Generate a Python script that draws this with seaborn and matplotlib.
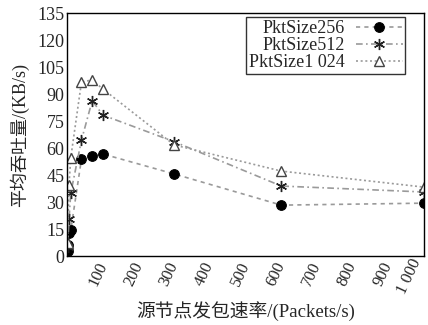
import matplotlib
matplotlib.use("Agg")
import matplotlib.pyplot as plt
import seaborn as sns
import pandas as pd

# data
x256 = [1, 2, 5, 10, 40, 70, 100, 300, 600, 1000]
y256 = [3, 6, 12.8, 14.4, 53.9, 55.6, 56.7, 45.6, 28.3, 29.4]
x512 = [1, 5, 10, 40, 70, 100, 300, 600, 1000]
y512 = [5, 20.5, 35, 64.4, 86.3, 78.3, 63.5, 38.9, 35.6]
x1024 = [1, 5, 10, 40, 70, 100, 300, 600, 1000]
y1024 = [7, 39.5, 54.6, 96.7, 97.8, 92.8, 61.7, 47.2, 38.3]
series_names = ["PktSize256", "PktSize512", "PktSize1 024"]
xticks = [100, 200, 300, 400, 500, 600, 700, 800, 900, 1000]
xtick_labels = ["100", "200", "300", "400", "500", "600", "700", "800", "900", "1 000"]
yticks = [0, 15, 30, 45, 60, 75, 90, 105, 120, 135]
xlabel = "源节点发包速率/(Packets/s)"
ylabel = "平均吞吐量/(KB/s)"

sns.set_theme(style="white")
plt.rcParams['font.family'] = ['Liberation Serif', 'Noto Sans CJK SC']

fig = plt.figure(figsize=(4.28, 3.25), dpi=100)
ax = fig.add_axes([0.157, 0.212, 0.834, 0.748])

styles = [
    dict(linestyle=(0, (2.5, 2.5)), marker='o', markersize=7, markerfacecolor='black',
         markeredgecolor='black'),
    dict(linestyle=(0, (4, 2, 1, 2)), marker=(6, 2, 0), markersize=8, markerfacecolor='black',
         markeredgecolor='#222222', markeredgewidth=1.0),
    dict(linestyle=(0, (1.2, 1.6)), marker='^', markersize=7, markerfacecolor='white',
         markeredgecolor='#444444', markeredgewidth=1.0),
]
data = [(x256, y256), (x512, y512), (x1024, y1024)]
for (xs, ys), name, st in zip(data, series_names, styles):
    df = pd.DataFrame({"x": xs, "y": ys})
    sns.lineplot(data=df, x="x", y="y", ax=ax, color='#9a9a9a', linewidth=1.2,
                 label=name, **st)

ax.set_xlim(0, 1000)
ax.set_ylim(0, 135)
ax.set_xticks(xticks)
ax.set_xticklabels(xtick_labels, rotation=65, ha='right', va='center',
                   rotation_mode='anchor', fontsize=12)
ax.get_xticklabels()[-1].set_va('bottom')
ax.set_yticks(yticks)
ax.set_yticklabels([str(v) for v in yticks], fontsize=13)
ax.tick_params(direction='in', length=5, width=1, color='black', pad=2)
ax.tick_params(axis='x', pad=5)
for sp in ax.spines.values():
    sp.set_color('black')
    sp.set_linewidth(1.0)
ax.set_xlabel(xlabel, fontsize=13.5, va='center')
ax.xaxis.set_label_coords(0.5, -0.225)
ax.set_ylabel(ylabel, fontsize=13, va='center')
ax.yaxis.set_label_coords(-0.135, 0.5)

leg = ax.legend(loc='upper right', markerfirst=False, fontsize=13, frameon=True,
                fancybox=False, edgecolor='black', handlelength=2.6,
                borderpad=0.15, labelspacing=0.0, handletextpad=0.6,
                borderaxespad=0.0, bbox_to_anchor=(0.947, 0.983))
leg.get_frame().set_linewidth(1.0)

fig.savefig("out.png", dpi=100)
